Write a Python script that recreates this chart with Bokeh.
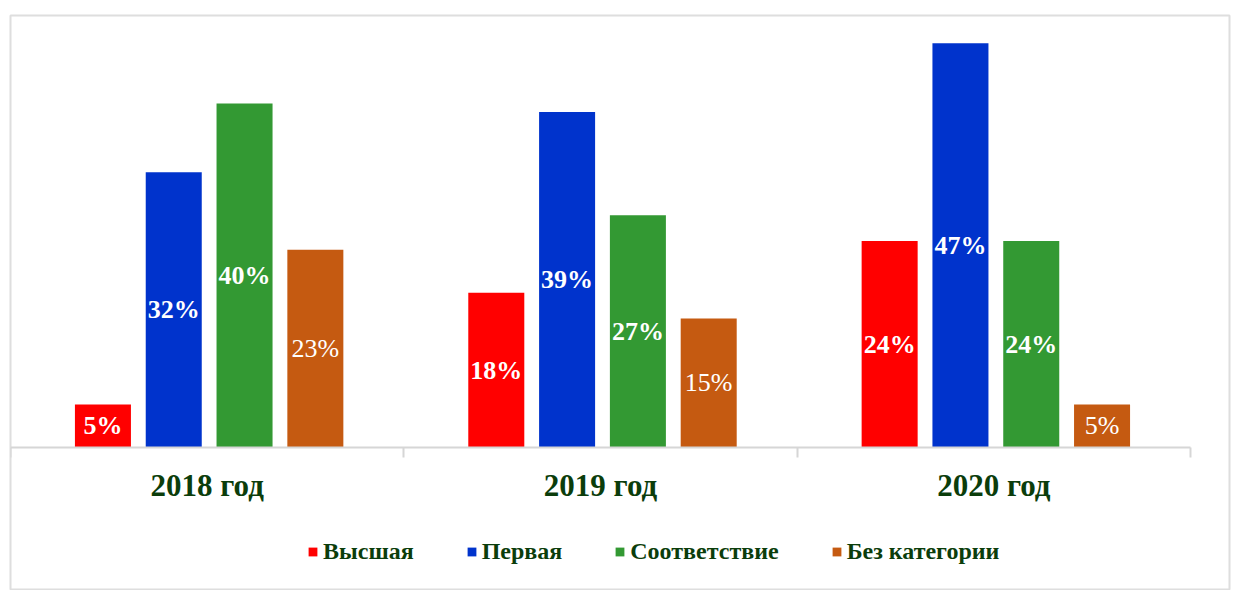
from bokeh.plotting import figure
from bokeh.models import ColumnDataSource, Range1d, FixedTicker, LinearAxis, Legend, LegendItem
from bokeh.core.properties import value
from bokeh.embed import file_html
from bokeh.resources import INLINE

years = ["2018 год", "2019 год", "2020 год"]
series = ["Высшая", "Первая", "Соответствие", "Без категории"]
vysshaya = [5, 18, 24]
pervaya = [32, 39, 47]
sootvetstvie = [40, 27, 24]
bez_kategorii = [23, 15, 5]
all_values = [vysshaya, pervaya, sootvetstvie, bez_kategorii]

colors = ["#FF0000", "#0033CC", "#339933", "#C55A11"]
label_styles = ["bold", "bold", "bold", "normal"]
offsets = [-0.265, -0.085, 0.095, 0.275]
text_green = "#0b3d0b"
FONT = "Liberation Serif"

p = figure(width=1231, height=590, output_backend="svg", toolbar_location=None,
           x_range=Range1d(0, 3.099), y_range=Range1d(-16.63, 50.23),
           min_border_left=10, min_border_right=2, min_border_top=15, min_border_bottom=0,
           x_axis_location=None, y_axis_location=None)
p.outline_line_color = "#dedede"
p.outline_line_width = 2
p.background_fill_color = "white"
p.border_fill_color = "white"

items = []
for k, vals in enumerate(all_values):
    src = ColumnDataSource(dict(
        x=[i + 0.5 + offsets[k] for i in range(len(years))],
        top=vals,
        mid=[v / 2 for v in vals],
        lab=[f"{v}%" for v in vals],
    ))
    r = p.vbar(x="x", top="top", bottom=0, width=0.1424, source=src,
               fill_color=colors[k], line_color=None)
    p.text(x="x", y="mid", text="lab", source=src, text_color="white",
           text_font=value(FONT), text_font_size="26px", text_font_style=label_styles[k],
           text_align="center", text_baseline="middle")
    items.append(LegendItem(label=series[k], renderers=[r]))

# axis line with boundary ticks
ax = LinearAxis(fixed_location=0, bounds=(0, 3), ticker=FixedTicker(ticks=[0, 1, 2, 3]),
                major_label_text_color=None, axis_line_color="#d6d6d6", axis_line_width=2,
                major_tick_out=10, major_tick_in=0, major_tick_line_color="#d6d6d6",
                major_tick_line_width=2, minor_tick_line_color=None)
p.add_layout(ax, "below")

# category labels
lab_axis = LinearAxis(fixed_location=0, ticker=FixedTicker(ticks=[0.5, 1.5, 2.5]),
                      major_label_overrides={0.5: years[0], 1.5: years[1], 2.5: years[2]},
                      axis_line_color=None, major_tick_line_color=None, minor_tick_line_color=None,
                      major_tick_out=0, major_tick_in=0, major_label_standoff=21,
                      major_label_text_font=FONT, major_label_text_font_size="31px",
                      major_label_text_font_style="bold", major_label_text_color=text_green)
p.add_layout(lab_axis, "below")

p.grid.visible = False
p.xgrid.visible = False
p.ygrid.visible = False

legend = Legend(items=items, orientation="horizontal", location=(297, 25),
                glyph_width=11, glyph_height=11, label_standoff=5, spacing=52,
                padding=0, margin=0, border_line_color=None, background_fill_alpha=0,
                label_text_font=FONT, label_text_font_style="bold",
                label_text_font_size="24px", label_text_color=text_green)
p.add_layout(legend)

open("out.html", "w").write(file_html(p, INLINE))
